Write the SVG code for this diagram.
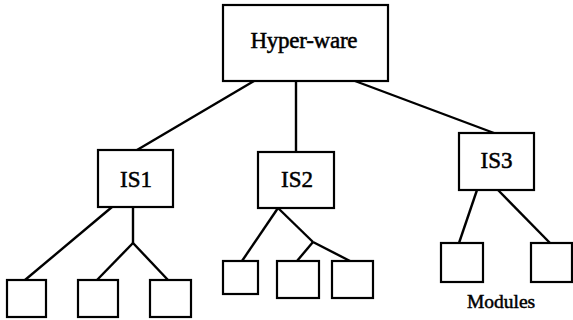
<svg xmlns="http://www.w3.org/2000/svg" width="573" height="320" viewBox="0 0 573 320">
<style>
rect{fill:#fff;stroke:#000;stroke-width:2.2}
line{stroke:#000;stroke-width:2.4;stroke-linecap:butt}
text{font-family:"Liberation Serif","Times New Roman",serif;fill:#000;text-anchor:middle;stroke:#000;stroke-width:0.5}
.l{font-size:23px}
.m{font-size:19.5px}
</style>
<rect x="0" y="0" width="573" height="320" style="fill:#fff;stroke:none"/>
<g id="connectors">
<line x1="254" y1="81" x2="137" y2="150"/>
<line x1="296" y1="81" x2="296" y2="152"/>
<line x1="355" y1="81" x2="494" y2="133"/>
<line x1="112" y1="207" x2="25" y2="280"/>
<line x1="133" y1="207" x2="133" y2="243"/>
<line x1="133" y1="243" x2="97" y2="280"/>
<line x1="133" y1="243" x2="168" y2="280"/>
<line x1="278" y1="208" x2="242" y2="261"/>
<line x1="278" y1="208" x2="313" y2="242"/>
<line x1="313" y1="242" x2="297" y2="261"/>
<line x1="313" y1="242" x2="350" y2="261"/>
<line x1="477" y1="190" x2="459" y2="243"/>
<line x1="498" y1="190" x2="550" y2="243"/>
</g>
<g id="hyperware"><rect x="223" y="5" width="165" height="76"/><text class="l" x="304" y="48" textLength="107">Hyper-ware</text></g>
<g id="is1"><rect x="98" y="150" width="75" height="57"/><text class="l" x="136" y="187">IS1</text></g>
<g id="is2"><rect x="258" y="152" width="76" height="56"/><text class="l" x="297" y="187">IS2</text></g>
<g id="is3"><rect x="459" y="133" width="75" height="57"/><text class="l" x="496.5" y="168">IS3</text></g>
<g id="m1"><rect x="7" y="280" width="39" height="37"/></g>
<g id="m2"><rect x="78" y="280" width="40" height="37"/></g>
<g id="m3"><rect x="150" y="280" width="41" height="37"/></g>
<g id="m4"><rect x="223" y="261" width="35" height="33"/></g>
<g id="m5"><rect x="277" y="261" width="42" height="37"/></g>
<g id="m6"><rect x="332" y="261" width="41" height="37"/></g>
<g id="m7"><rect x="441" y="243" width="42" height="39"/></g>
<g id="m8"><rect x="531" y="243" width="41" height="39"/></g>
<g id="modules-label"><text class="m" x="501" y="308">Modules</text></g>
</svg>
